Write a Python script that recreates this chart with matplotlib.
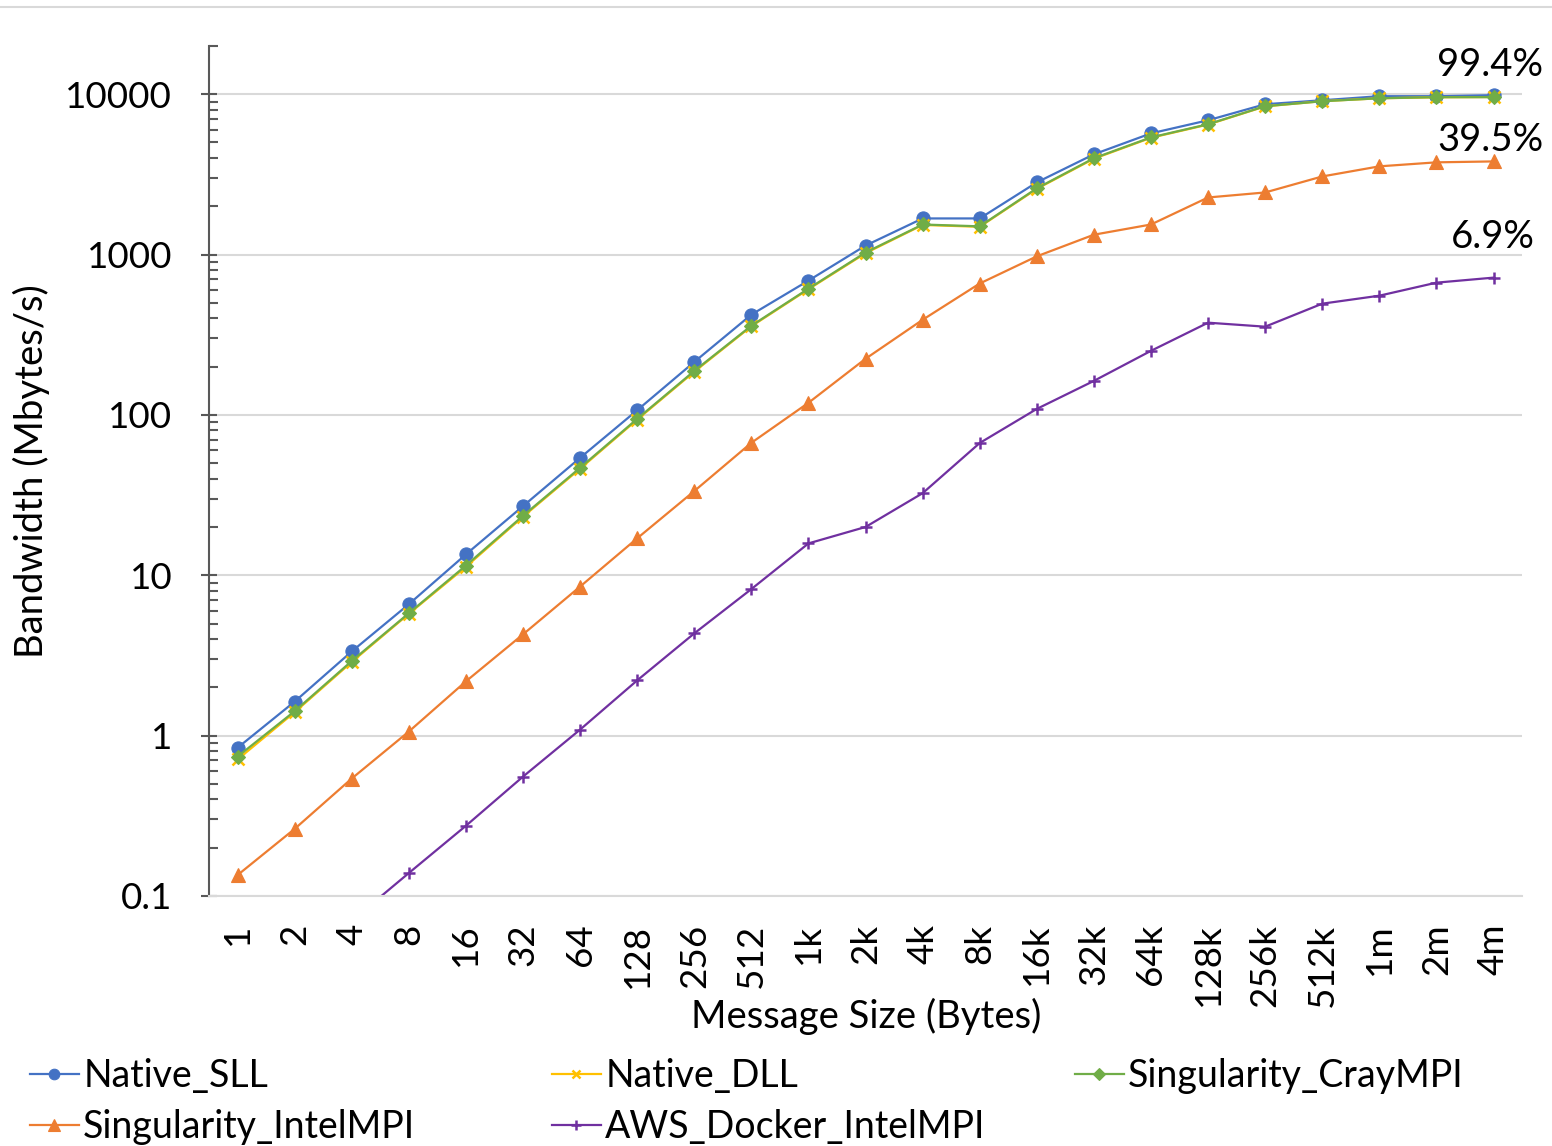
import matplotlib
matplotlib.use("Agg")
import matplotlib.pyplot as plt
from matplotlib.ticker import FixedLocator, LogLocator, NullFormatter
from matplotlib.lines import Line2D

plt.rcParams['font.family'] = ['Lato', 'DejaVu Sans']

sizes = ['1', '2', '4', '8', '16', '32', '64', '128', '256', '512', '1k', '2k', '4k',
         '8k', '16k', '32k', '64k', '128k', '256k', '512k', '1m', '2m', '4m']

native_sll = [0.84, 1.63, 3.35, 6.6, 13.5, 27, 54, 107, 214, 422, 688, 1138, 1680,
              1680, 2820, 4220, 5700, 6880, 8660, 9170, 9720, 9720, 9860]
native_dll = [0.71, 1.40, 2.88, 5.75, 11.3, 23.2, 46.2, 93.5, 186, 357, 608, 1020, 1530,
              1490, 2570, 3960, 5350, 6470, 8400, 9050, 9430, 9570, 9600]
singularity_cray = [0.74, 1.42, 2.92, 5.8, 11.5, 23.5, 46.8, 94.5, 188, 360, 613, 1030, 1540,
                    1500, 2590, 3990, 5380, 6500, 8420, 9040, 9440, 9580, 9590]
singularity_intel = [0.135, 0.262, 0.54, 1.06, 2.18, 4.28, 8.5, 17.0, 33.5, 67, 119, 224, 392,
                     660, 975, 1330, 1540, 2270, 2440, 3070, 3550, 3760, 3810]
aws_docker_intel = [0.018, 0.035, 0.07, 0.139, 0.274, 0.555, 1.09, 2.21, 4.34, 8.2, 15.8, 20, 32.5,
                    66.8, 109, 163, 251, 376, 355, 494, 554, 668, 718]

series = [
    ('Native_SLL', native_sll, '#4472C4', 'o', 9.5),
    ('Native_DLL', native_dll, '#FFC000', 'x', 8),
    ('Singularity_CrayMPI', singularity_cray, '#70AD47', 'D', 7.5),
    ('Singularity_IntelMPI', singularity_intel, '#ED7D31', '^', 10),
    ('AWS_Docker_IntelMPI', aws_docker_intel, '#7030A0', '+', 9),
]

yticks = [0.1, 1, 10, 100, 1000, 10000]
ytick_labels = ['0.1', '1', '10', '100', '1000', '10000']

# efficiency labels at the right end of each group
end_notes = ['99.4%', '39.5%', '6.9%']

fig = plt.figure(figsize=(15.52, 11.46), dpi=100)
ax = fig.add_axes([0.1347, 0.2182, 0.8460, 0.7417])

x = list(range(len(sizes)))
for name, vals, col, mk, ms in series:
    ax.plot(x, vals, color=col, marker=mk, markersize=ms, linewidth=1.6,
            markeredgewidth=1.8 if mk in ('x', '+') else 0.8, label=name)

ax.set_yscale('log')
ax.set_ylim(0.1, 20000)
ax.set_xlim(-0.5, len(sizes) - 0.5)
ax.yaxis.set_major_locator(FixedLocator(yticks))
ax.set_yticklabels(ytick_labels)
ax.yaxis.set_minor_locator(LogLocator(base=10, subs=[2, 3, 4, 5, 6, 7, 8, 9], numticks=20))
ax.yaxis.set_minor_formatter(NullFormatter())
ax.set_xticks(x)
ax.set_xticklabels(sizes, rotation=90)

ax.grid(axis='y', which='major', color='#d9d9d9', linewidth=1.5)
ax.set_axisbelow(True)
for s in ['top', 'right']:
    ax.spines[s].set_visible(False)
ax.spines['left'].set_color('#595959')
ax.spines['left'].set_linewidth(1.5)
ax.spines['bottom'].set_color('#d9d9d9')
ax.spines['bottom'].set_linewidth(1.5)

ax.tick_params(axis='y', which='major', direction='inout', length=11, width=1.5,
               color='#595959', labelsize=26.5, pad=21)
ax.tick_params(axis='y', which='minor', direction='in', length=6.5, width=1.5, color='#595959')
ax.tick_params(axis='x', length=0, labelsize=26.5, pad=20)

ax.set_ylabel('Bandwidth (Mbytes/s)', fontsize=27.5)
ax.yaxis.set_label_coords(-0.121, 0.5)
ax.set_xlabel('Message Size (Bytes)', fontsize=27.5)
ax.xaxis.set_label_coords(0.5004, -0.120)

fig.text(1543 / 1552, 1 - 65 / 1146, end_notes[0], fontsize=27.5, ha='right', va='center')
fig.text(1543 / 1552, 1 - 140 / 1146, end_notes[1], fontsize=27.5, ha='right', va='center')
fig.text(1535 / 1552, 1 - 237 / 1146, end_notes[2], fontsize=27.5, ha='right', va='center')

# legend: three columns placed like the original
handles = [Line2D([], [], color=col, marker=mk, markersize=ms * 0.8, linewidth=1.6,
                  markeredgewidth=1.8 if mk in ('x', '+') else 0.8)
           for _, _, col, mk, ms in series]
names = [s[0] for s in series]
cols = [([0, 3], 30), ([1, 4], 552), ([2], 1075)]
for idx, xpix in cols:
    fig.legend([handles[i] for i in idx], [names[i] for i in idx],
               loc='upper left', bbox_to_anchor=(xpix / 1552, 1 - 1058 / 1146),
               frameon=False, fontsize=27, handlelength=1.3, handletextpad=0.12,
               labelspacing=0.4, borderpad=0, borderaxespad=0)

fig.add_artist(Line2D([0, 1], [1 - 7 / 1146, 1 - 7 / 1146], color='#d9d9d9', linewidth=1.5))

fig.savefig('out.png', dpi=100)
